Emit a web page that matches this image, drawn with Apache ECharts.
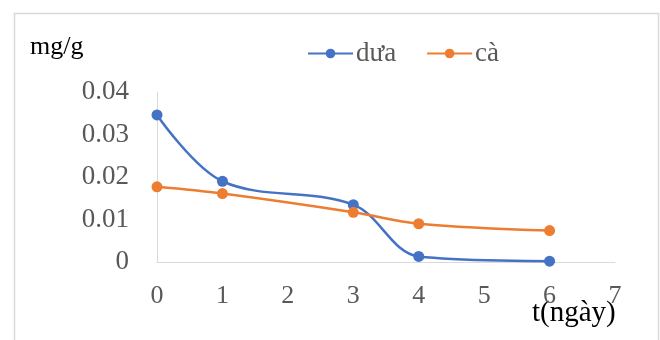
<!DOCTYPE html>
<html>
<head>
<meta charset="utf-8">
<script src="https://cdn.jsdelivr.net/npm/echarts@6/dist/echarts.min.js"></script>
<style>
html,body{margin:0;padding:0;background:#fff;}
#chart{width:660px;height:340px;}
</style>
</head>
<body>
<div id="chart"></div>
<script>
var days = [0, 1, 3, 4, 6];
var duaValues = [0.0346, 0.019, 0.0135, 0.0013, 0.0002];
var caValues = [0.0177, 0.0161, 0.0117, 0.009, 0.0074];
var seriesNames = ['dưa', 'cà'];
var yAxisTitle = 'mg/g';
var xAxisTitle = 't(ngày)';

function pairs(xs, ys) { return xs.map(function (x, i) { return [x, ys[i]]; }); }

var FONT = '"Liberation Serif", "Times New Roman", serif';
var chart = echarts.init(document.getElementById('chart'), null, {renderer: 'canvas'});
chart.setOption({
  animation: false,
  backgroundColor: '#fff',
  color: ['#4472C4', '#ED7D31'],
  grid: {left: 157, right: 45, top: 92, bottom: 78, containLabel: false},
  legend: {
    data: seriesNames,
    left: 302, top: 35,
    itemWidth: 45, itemHeight: 12, itemGap: 30,
    textStyle: {fontFamily: FONT, fontSize: 27, color: '#595959', padding: [0, 0, 0, -2]}
  },
  xAxis: {
    type: 'value', min: 0, max: 7, interval: 1,
    axisLine: {show: true, lineStyle: {color: '#d9d9d9', width: 1}},
    axisTick: {show: false},
    splitLine: {show: false},
    axisLabel: {fontFamily: FONT, fontSize: 26, color: '#595959', margin: 21}
  },
  yAxis: {
    type: 'value', min: 0, max: 0.04, interval: 0.01,
    axisLine: {show: true, lineStyle: {color: '#d9d9d9', width: 1}},
    axisTick: {show: false},
    splitLine: {show: false},
    axisLabel: {fontFamily: FONT, fontSize: 27, color: '#595959', margin: 28,
      formatter: function (v) { return v === 0 ? '0' : v.toFixed(2); }}
  },
  graphic: [
    {type: 'rect', shape: {x: 14.5, y: 13.5, width: 644, height: 340}, style: {fill: 'none', stroke: '#d9d9d9', lineWidth: 1.5}, silent: true},
    {type: 'text', left: 30, top: 34, style: {text: yAxisTitle, fontFamily: FONT, fontSize: 26, fill: '#000'}},
    {type: 'text', left: 532, top: 299, style: {text: xAxisTitle, fontFamily: FONT, fontSize: 29, fill: '#000'}}
  ],
  series: [
    {name: seriesNames[0], type: 'line', data: pairs(days, duaValues), smooth: 0.35,
      symbol: 'circle', symbolSize: 11, lineStyle: {width: 2.5}},
    {name: seriesNames[1], type: 'line', data: pairs(days, caValues), smooth: 0.35,
      symbol: 'circle', symbolSize: 11, lineStyle: {width: 2.5}}
  ]
});
</script>
</body>
</html>
